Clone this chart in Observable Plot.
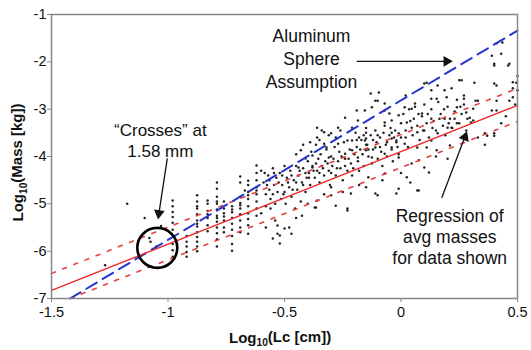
<!DOCTYPE html>
<html><head><meta charset="utf-8">
<script src="https://cdn.jsdelivr.net/npm/d3@7"></script>
<script src="https://cdn.jsdelivr.net/npm/@observablehq/plot@0.6"></script>
<style>html,body{margin:0;padding:0;background:#fff;}</style>
</head><body><div id="chart"></div>
<script>
// ---- data ----
const xTicks = [-1.5, -1, -0.5, 0, 0.5];
const yTicks = [-7, -6, -5, -4, -3, -2, -1];

// scatter: [log10 Lc (cm), log10 mass (kg)]
const samples = [
[-1.27,-6.3],[-1.175,-5.0],[-1.1,-5.3],[-1.08,-5.72],[-1.075,-5.8],[-1.03,-5.47],[-1.05,-5.9],
[-0.98,-4.93],[-0.98,-5.05],[-0.98,-5.17],[-0.98,-5.28],[-0.98,-5.4],[-0.98,-5.55],[-0.98,-5.85],[-0.98,-5.98],[-0.98,-6.12],
[-0.92,-5.68],[-0.92,-5.8],[-0.92,-5.9],[-0.92,-6.02],[-0.92,-6.12],
[-0.875,-4.82],[-0.875,-4.95],[-0.875,-5.1],[-0.875,-5.22],[-0.875,-5.35],[-0.875,-5.48],[-0.875,-5.6],[-0.875,-5.7],[-0.875,-5.8],[-0.875,-5.9],[-0.875,-6.0],[-0.875,-5.05],[-0.875,-5.42],
[-0.83,-4.93],[-0.83,-5.0],[-0.83,-5.15],[-0.83,-5.3],[-0.83,-5.45],[-0.83,-5.58],[-0.83,-5.22],
[-0.79,-4.55],[-0.79,-4.68],[-0.79,-4.85],[-0.79,-5.0],[-0.79,-5.12],[-0.79,-5.25],[-0.79,-5.38],[-0.79,-5.5],[-0.79,-5.62],[-0.79,-5.75],[-0.79,-5.9],[-0.79,-4.95],[-0.79,-5.3],
[-0.76,-4.95],[-0.76,-5.1],[-0.76,-5.2],[-0.76,-5.35],[-0.76,-5.5],[-0.76,-5.6],[-0.76,-5.27],
[-0.725,-5.05],[-0.725,-5.18],[-0.725,-5.3],[-0.725,-5.42],[-0.725,-5.55],[-0.725,-5.68],[-0.725,-5.85],[-0.725,-5.99],[-0.725,-5.12],
[-0.69,-4.42],[-0.69,-4.55],[-0.67,-4.72],[-0.69,-4.85],[-0.69,-4.98],[-0.69,-5.1],[-0.69,-5.22],[-0.69,-5.35],[-0.69,-5.5],[-0.69,-5.6],[-0.69,-5.03],
[-0.656,-4.51],[-0.656,-4.6],[-0.656,-4.75],[-0.656,-4.9],[-0.656,-5.05],[-0.656,-5.2],[-0.656,-5.32],[-0.656,-5.45],[-0.656,-5.63],[-0.656,-4.82],
[-0.62,-4.19],[-0.62,-4.5],[-0.62,-4.65],[-0.62,-4.8],[-0.62,-4.95],[-0.62,-5.1],[-0.62,-5.25],[-0.62,-4.72],[-0.62,-4.35],
[-0.6,-4.3],[-0.59,-4.55],[-0.58,-4.8],[-0.58,-5.05],[-0.57,-4.4],[-0.565,-4.7],[-0.56,-4.9],[-0.56,-5.1],[-0.55,-4.25],[-0.545,-4.6],[-0.54,-5.0],[-0.535,-4.45],[-0.53,-4.75],[-0.52,-4.35],[-0.515,-4.9],[-0.51,-4.6],[-0.5,-4.2],[-0.5,-4.75],[-0.495,-5.0],[-0.49,-4.45],[-0.48,-4.65],[-0.475,-4.3],[-0.47,-4.85],[-0.46,-4.5],[-0.455,-5.1],[-0.45,-4.2],[-0.445,-4.7],[-0.44,-4.4],[-0.43,-4.95],[-0.425,-4.55],[-0.42,-4.25],[-0.41,-4.75],[-0.405,-4.45],
[-0.585,-4.35],[-0.575,-4.6],[-0.565,-4.5],[-0.55,-4.8],[-0.545,-4.35],[-0.525,-4.55],[-0.51,-4.4],[-0.505,-4.8],[-0.485,-4.55],[-0.47,-4.4],[-0.465,-4.7],[-0.45,-4.55],[-0.435,-4.3],[-0.42,-4.6],[-0.41,-4.35],
[-0.54,-5.35],[-0.53,-5.63],[-0.52,-5.84],[-0.48,-5.5],[-0.47,-5.63],[-0.53,-5.46],[-0.5,-5.52],[-0.52,-5.67],[-0.55,-5.73],[-0.425,-5.25],[-0.37,-5.08],[-0.28,-5.04],[-0.23,-5.1],[-0.1,-4.82],[-0.01,-4.68],[0.07,-4.72],[-0.3,-4.82],
[-0.6,-5.2],[-0.58,-5.5],[-0.45,-5.3],[-0.4,-5.0],[-0.33,-4.8],[-0.25,-4.75],[-0.18,-4.6],[-0.08,-4.5],[0.0,-4.35],[0.04,-4.55],[0.15,-4.0],[0.2,-4.05],
[-0.43,-3.87],[-0.41,-4.04],[-0.38,-3.98],[-0.44,-4.23],[-0.38,-4.23],
[-0.45,-3.95],[-0.42,-3.75],[-0.39,-3.7],[-0.35,-3.65],[-0.31,-3.55],[-0.28,-3.6],[-0.26,-3.45],
[-0.4,-4.1],[-0.395,-4.35],[-0.39,-4.6],[-0.385,-3.9],[-0.38,-4.2],[-0.37,-4.45],[-0.365,-3.75],[-0.36,-4.3],[-0.355,-4.05],[-0.35,-4.55],[-0.345,-3.95],[-0.34,-4.2],[-0.33,-4.4],[-0.325,-4.1],[-0.32,-3.85],[-0.31,-4.3],[-0.305,-4.6],[-0.3,-4.0],[-0.295,-4.2],[-0.285,-3.8],[-0.28,-4.4],[-0.27,-4.1],[-0.265,-3.9],[-0.26,-4.25],[-0.25,-4.5],[-0.245,-3.7],[-0.24,-4.05],[-0.23,-4.3],[-0.22,-3.85],[-0.215,-4.15],[-0.21,-4.4],[-0.2,-3.95],
[-0.395,-4.45],[-0.375,-4.3],[-0.365,-4.15],[-0.35,-4.35],[-0.335,-4.25],[-0.315,-4.15],[-0.3,-4.35],[-0.29,-4.05],[-0.275,-4.25],[-0.255,-4.0],[-0.24,-4.2],[-0.225,-4.05],[-0.205,-4.25],
[-0.36,-3.39],[-0.33,-3.49],[-0.32,-3.81],[-0.31,-4.02],[-0.23,-3.66],[-0.21,-3.87],[-0.18,-3.6],[-0.19,-3.03],[-0.36,-4.93],[-0.365,-5.08],[-0.23,-5.14],[-0.215,-4.78],[-0.3,-4.65],
[-0.34,-3.45],[-0.3,-3.51],[-0.36,-3.6],[-0.33,-3.73],[-0.27,-3.73],[-0.24,-3.18],[-0.27,-3.39],[-0.21,-3.39],[-0.185,-3.24],[-0.155,-3.03],[-0.21,-3.66],[-0.155,-3.66],[-0.11,-3.81],[-0.24,-3.94],[-0.185,-4.02],[-0.125,-4.02],[-0.07,-3.94],[-0.01,-4.02],[0.046,-4.15],[0.1,-4.23],
[-0.195,-3.5],[-0.19,-3.8],[-0.185,-4.1],[-0.18,-4.3],[-0.17,-3.65],[-0.165,-3.95],[-0.16,-4.2],[-0.15,-3.4],[-0.145,-3.75],[-0.14,-4.0],[-0.13,-3.55],[-0.125,-4.15],[-0.12,-3.85],[-0.11,-3.45],[-0.105,-3.7],[-0.1,-4.05],[-0.09,-3.6],[-0.085,-3.9],[-0.08,-4.2],[-0.07,-3.35],[-0.065,-3.75],[-0.06,-4.0],[-0.05,-3.55],[-0.04,-3.85],[-0.035,-4.1],[-0.025,-3.45],[-0.02,-3.7],[-0.01,-3.95],[0.0,-3.3],[0.0,-3.6],
[-0.19,-3.65],[-0.175,-3.85],[-0.16,-3.55],[-0.14,-3.85],[-0.12,-3.65],[-0.1,-3.55],[-0.09,-3.8],[-0.075,-3.5],[-0.06,-3.7],[-0.045,-3.4],[-0.03,-3.6],[-0.015,-3.8],
[-0.13,-2.67],[-0.095,-2.65],[-0.1,-2.82],[-0.07,-2.88],[0.02,-2.71],[0.046,-2.99],[-0.01,-3.13],[0.025,-3.28],[-0.05,-3.09],[-0.07,-3.28],[-0.125,-2.96],[-0.11,-2.82],[-0.07,-3.03],[-0.04,-3.24],
[-0.15,-3.5],[-0.15,-3.62],[-0.15,-3.75],[-0.15,-3.87],[-0.04,-3.5],[-0.04,-3.62],[-0.04,-3.81],[-0.02,-3.66],[0.07,-3.49],
[-0.14,-4.44],[-0.15,-4.65],[-0.11,-4.78],[-0.02,-4.78],[0.025,-4.44],[-0.07,-4.36],
[0.01,-3.1],[0.02,-3.45],[0.03,-3.8],[0.04,-3.25],[0.05,-3.55],[0.06,-2.95],[0.07,-3.35],[0.08,-3.65],[0.09,-3.15],[0.1,-2.9],[0.11,-3.3],[0.12,-3.6],[0.13,-3.0],[0.14,-3.25],[0.15,-3.45],[0.16,-2.85],[0.17,-3.1],[0.18,-3.35],[0.19,-3.55],[0.2,-2.95],[0.21,-3.2],[0.22,-3.4],[0.23,-3.05],[0.24,-2.8],[0.25,-3.3],[0.26,-3.1],[0.27,-2.9],[0.28,-3.45],
[0.02,-3.6],[0.035,-3.0],[0.055,-3.2],[0.075,-3.1],[0.095,-3.45],[0.115,-3.1],[0.135,-3.4],[0.165,-3.2],[0.185,-3.0],[0.205,-3.3],[0.23,-3.2],[0.255,-2.95],[0.285,-3.2],
[0.016,-2.96],[0.06,-2.88],[0.1,-2.46],[0.13,-2.78],[0.157,-2.5],[0.09,-3.09],[0.13,-3.2],[0.187,-3.2],[0.217,-3.39],[0.3,-3.28],[0.157,-3.51],[0.1,-3.45],[0.046,-3.39],[-0.01,-3.51],[0.016,-3.73],[0.07,-3.81],[0.13,-3.66],
[0.11,-2.44],[0.13,-2.6],[0.25,-2.39],[0.27,-2.71],[0.196,-2.75],[0.153,-2.78],[0.24,-2.96],[0.24,-3.3],[0.28,-3.07],[0.2,-3.39],[0.11,-3.81],[0.153,-3.87],[0.21,-3.77],[0.076,-4.08],[0.12,-4.34],[0.076,-4.72],
[0.187,-2.6],[0.217,-2.56],[0.26,-2.39],[0.315,-2.44],[0.27,-2.78],[0.33,-2.82],[0.36,-3.51],
[0.41,-1.61],[0.435,-1.59],[0.39,-1.87],[0.43,-1.83],[0.4,-2.04],[0.465,-2.04],[0.4,-2.08],[0.46,-2.08],[0.48,-2.43],[0.4,-2.46],[0.41,-2.5],[0.495,-2.44],[0.48,-2.56],[0.48,-2.75],
[0.32,-2.82],[0.41,-2.82],[0.465,-2.82],[0.31,-2.99],[0.39,-3.03],[0.41,-3.03],[0.295,-3.18],[0.31,-3.24],[0.37,-3.56],[0.4,-3.56],[0.4,-3.51],
[0.5,-2.3],[0.5,-2.6],[0.49,-2.9],[0.45,-3.15],[0.33,-3.6],[0.36,-3.75],[0.43,-3.3]
];

// lines: aluminum sphere assumption, regression of avg masses, upper/lower bounds
const alumX = [-1.42, 0.5],  alumY = [-7.0, -1.34];
const regX  = [-1.5, 0.5],   regY  = [-6.83, -2.92];
const upX   = [-1.5, 0.5],   upY   = [-6.47, -2.56];
const loX   = [-1.42, 0.5],  loY   = [-7.0, -3.26];

const toPts = (xs, ys) => xs.map((x, i) => ({x, y: ys[i]}));

const font = "'Liberation Sans', Arial, Helvetica, sans-serif";
const fmt = d => String(d);

const chart = Plot.plot({
  width: 531, height: 350,
  marginLeft: 51, marginRight: 14, marginTop: 14, marginBottom: 52,
  style: {fontFamily: font, fontSize: "15px", background: "#fff", color: "#111"},
  x: {domain: [-1.5, 0.5]},
  y: {domain: [-7, -1]},
  marks: [
    Plot.axisX({ticks: xTicks, tickFormat: fmt, tickSize: 4, tickPadding: 4, label: null, stroke: "#888", fill: "#111", fontSize: 14.5}),
    Plot.axisY({ticks: yTicks, tickFormat: fmt, tickSize: 4, tickPadding: 1, label: null, stroke: "#888", fill: "#111", fontSize: 14.5}),
    Plot.dot(samples, {x: d => d[0], y: d => d[1], r: 1.25, fill: "#222", stroke: null}),
    Plot.line(toPts(upX, upY), {x: "x", y: "y", stroke: "#e8403e", strokeWidth: 1.6, strokeDasharray: "4,8"}),
    Plot.line(toPts(loX, loY), {x: "x", y: "y", stroke: "#e8403e", strokeWidth: 1.6, strokeDasharray: "4,8"}),
    Plot.line(toPts(alumX, alumY), {x: "x", y: "y", stroke: "#2434d0", strokeWidth: 2, strokeDasharray: "12,7"}),
    Plot.line(toPts(regX, regY), {x: "x", y: "y", stroke: "#f02828", strokeWidth: 1.4}),
    Plot.frame({stroke: "#888", strokeWidth: 1.5}),
    // annotations
    Plot.dot([{x: -1.046, y: -5.93}], {x: "x", y: "y", r: 20, stroke: "#000", strokeWidth: 2.6, fill: "none"}),
    Plot.text([{x: -1.033, y: -3.65}], {x: "x", y: "y", text: () => "\u201CCrosses\u201D at\n1.58 mm", fontSize: 17, lineHeight: 1.25, lineAnchor: "middle", fill: "#111"}),
    Plot.link([{x1: -1.003, y1: -4.04, x2: -1.039, y2: -5.2}], {x1: "x1", y1: "y1", x2: "x2", y2: "y2", stroke: "#111", strokeWidth: 1.3}),
    Plot.dot([{x: -1.039, y: -5.2}], {x: "x", y: "y", symbol: "triangle", r: 4, fill: "#111", rotate: 188}),
    Plot.text([{x: -0.384, y: -1.91}], {x: "x", y: "y", text: () => "Aluminum\nSphere\nAssumption", fontSize: 17.5, lineHeight: 1.3, lineAnchor: "middle", fill: "#111"}),
    Plot.link([{x1: -0.19, y1: -1.99, x2: 0.19, y2: -1.99}], {x1: "x1", y1: "y1", x2: "x2", y2: "y2", stroke: "#111", strokeWidth: 1.3}),
    Plot.dot([{x: 0.196, y: -1.99}], {x: "x", y: "y", symbol: "triangle", r: 4, fill: "#111", rotate: 90}),
    Plot.text([{x: 0.209, y: -5.69}], {x: "x", y: "y", text: () => "Regression of\navg masses\nfor data shown", fontSize: 17.5, lineHeight: 1.2, lineAnchor: "middle", fill: "#111"}),
    Plot.link([{x1: 0.175, y1: -4.87, x2: 0.274, y2: -3.59}], {x1: "x1", y1: "y1", x2: "x2", y2: "y2", stroke: "#111", strokeWidth: 1.3}),
    Plot.dot([{x: 0.274, y: -3.59}], {x: "x", y: "y", symbol: "triangle", r: 4, fill: "#111", rotate: 21}),
    // axis titles
    Plot.text([{x: -0.519, y: -7.845}], {x: "x", y: "y", text: () => "Log10(Lc [cm])", fontSize: 15, fontWeight: "bold", fill: "#111"}),
    Plot.text([{x: -1.641, y: -4.127}], {x: "x", y: "y", text: () => "Log10(Mass [kg])", fontSize: 15, fontWeight: "bold", rotate: -90, fill: "#111"})
  ]
});

// subscript "10" in the axis titles
d3.select(chart).selectAll("text").each(function () {
  const t = this.textContent;
  if (t.startsWith("Log10")) {
    const sel = d3.select(this);
    sel.text(null);
    sel.append("tspan").text("Log");
    sel.append("tspan").text("10").attr("font-size", "0.68em").attr("dy", "0.3em");
    sel.append("tspan").text(t.slice(5)).attr("dy", "-0.3em");
  }
});

document.getElementById("chart").appendChild(chart);
</script>
</body></html>
